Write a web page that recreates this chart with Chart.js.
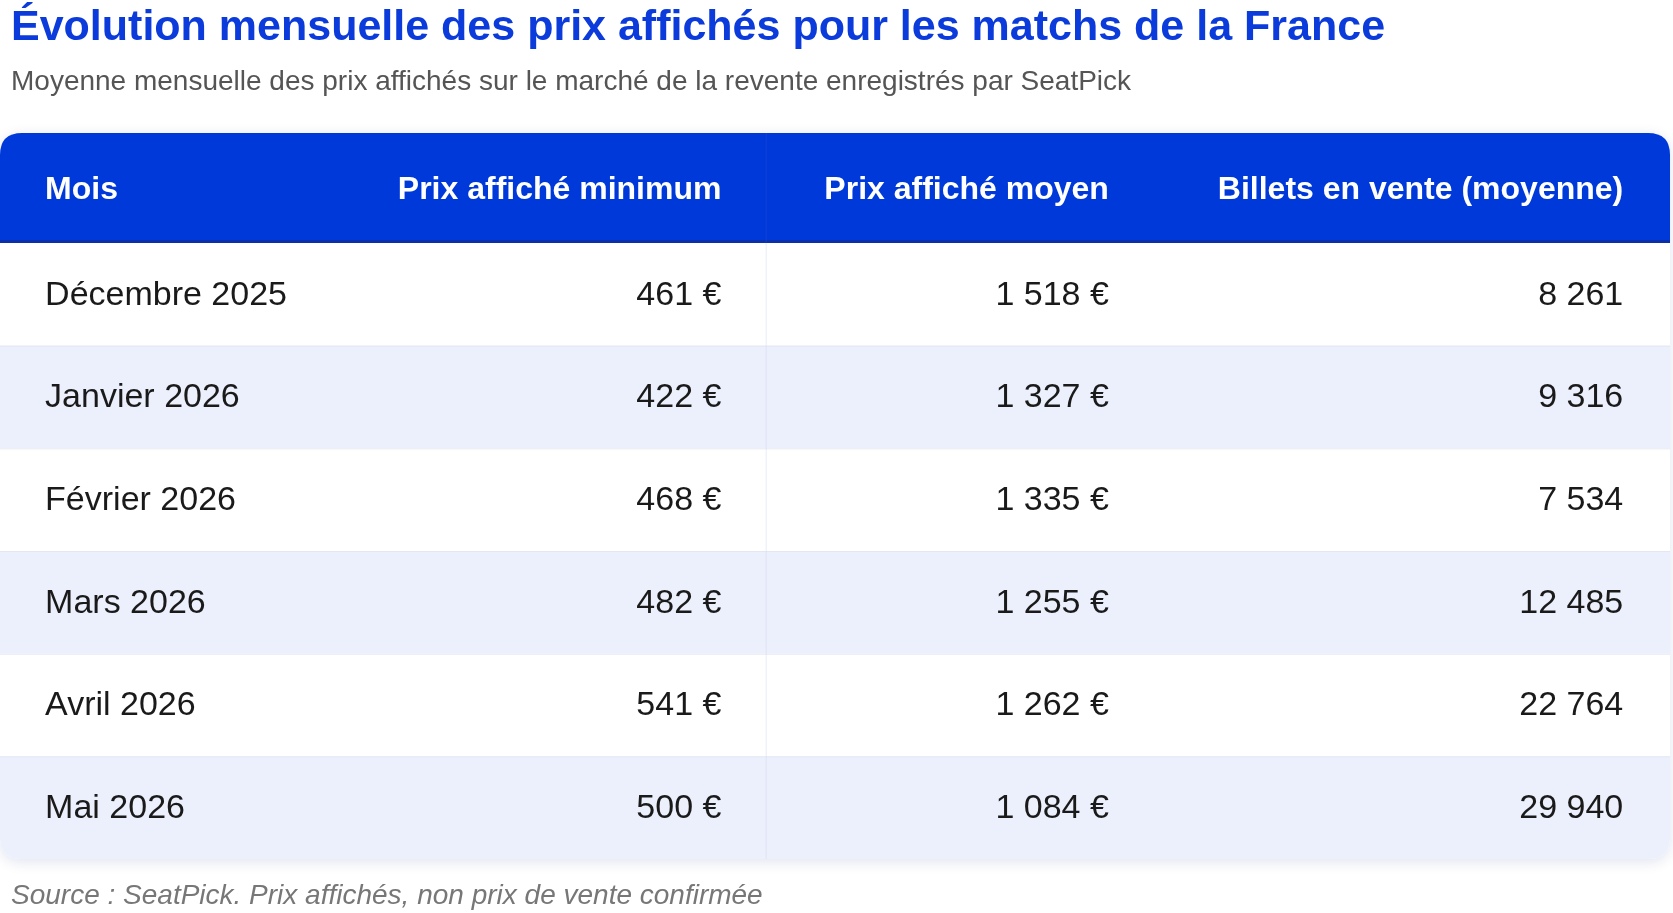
<!DOCTYPE html>
<html>
<head>
<meta charset="utf-8">
<script src="https://cdn.jsdelivr.net/npm/chart.js@4/dist/chart.umd.min.js"></script>
<style>
  html, body { margin: 0; padding: 0; background: #fff; }
  #wrap { width: 1673px; height: 913px; }
</style>
</head>
<body>
<div id="wrap"><canvas id="tbl" width="1673" height="913"></canvas></div>
<script>
// données
const mois = ["Décembre 2025", "Janvier 2026", "Février 2026", "Mars 2026", "Avril 2026", "Mai 2026"];
const prixMin = [461, 422, 468, 482, 541, 500];
const prixMoyen = [1518, 1327, 1335, 1255, 1262, 1084];
const billets = [8261, 9316, 7534, 12485, 22764, 29940];
const entetes = ["Mois", "Prix affiché minimum", "Prix affiché moyen", "Billets en vente (moyenne)"];

const titre = "Évolution mensuelle des prix affichés pour les matchs de la France";
const sousTitre = "Moyenne mensuelle des prix affichés sur le marché de la revente enregistrés par SeatPick";
const source = "Source : SeatPick. Prix affichés, non prix de vente confirmée";

const fmt = n => n.toLocaleString("fr-FR").replace(/[\u202f\u00a0]/g, " ");
const euro = n => fmt(n) + " €";

const BLEU = "#0039d9";
const FONT = "'Liberation Sans', Arial, sans-serif";

function rrect(ctx, x, y, w, h, r) {
  ctx.beginPath();
  ctx.moveTo(x + r, y);
  ctx.lineTo(x + w - r, y);
  ctx.quadraticCurveTo(x + w, y, x + w, y + r);
  ctx.lineTo(x + w, y + h - r);
  ctx.quadraticCurveTo(x + w, y + h, x + w - r, y + h);
  ctx.lineTo(x + r, y + h);
  ctx.quadraticCurveTo(x, y + h, x, y + h - r);
  ctx.lineTo(x, y + r);
  ctx.quadraticCurveTo(x, y, x + r, y);
  ctx.closePath();
}

const tablePlugin = {
  id: "tablePlugin",
  beforeDraw(chart) {
    const ctx = chart.ctx;
    const ca = chart.chartArea;
    const xs = chart.scales.x, ys = chart.scales.y;
    const left = xs.getPixelForValue(0), right = xs.getPixelForValue(1);
    const headTop = 133, headBot = ca.top;
    const rowH = (ca.bottom - ca.top) / mois.length;

    // titre
    ctx.save();
    ctx.textBaseline = "alphabetic";
    ctx.fillStyle = "#0b3bdb";
    ctx.font = "bold 43px " + FONT;
    ctx.fillText(titre, 11, 40);
    ctx.fillStyle = "#555";
    ctx.font = "28px " + FONT;
    ctx.fillText(sousTitre, 11, 90);

    // fond du tableau avec ombre
    ctx.save();
    ctx.shadowColor = "rgba(0,30,120,0.12)";
    ctx.shadowBlur = 14;
    ctx.shadowOffsetY = 3;
    rrect(ctx, left, headTop, right - left, ca.bottom - headTop, 22);
    ctx.fillStyle = "#fff";
    ctx.fill();
    ctx.restore();

    ctx.save();
    rrect(ctx, left, headTop, right - left, ca.bottom - headTop, 22);
    ctx.clip();
    ctx.fillStyle = BLEU;
    ctx.fillRect(left, headTop, right - left, headBot - headTop);
    ctx.fillStyle = "#0a2fa8";
    ctx.fillRect(left, headBot - 3, right - left, 3);
    mois.forEach((m, i) => {
      const yc = ys.getPixelForValue(i);
      const y0 = yc - rowH / 2;
      ctx.fillStyle = i % 2 ? "#ecf0fc" : "#ffffff";
      ctx.fillRect(left, y0, right - left, rowH);
      if (i > 0) {
        ctx.fillStyle = "#e3e7f2";
        ctx.fillRect(left, y0, right - left, 1);
      }
    });
    // séparateur de colonnes
    const sep = xs.getPixelForValue(0.4585);
    ctx.fillStyle = "rgba(40,80,220,0.35)";
    ctx.fillRect(sep, headTop, 1, headBot - headTop);
    ctx.fillStyle = "rgba(210,218,240,0.5)";
    ctx.fillRect(sep, headBot, 1, ca.bottom - headBot);
    ctx.restore();

    // textes
    const colX = [0.027, 0.432, 0.664, 0.972].map(v => xs.getPixelForValue(v));
    const align = ["left", "right", "right", "right"];
    ctx.textBaseline = "middle";
    ctx.font = "bold 32px " + FONT;
    ctx.fillStyle = "#fff";
    entetes.forEach((h, j) => {
      ctx.textAlign = align[j];
      ctx.fillText(h, colX[j], (headTop + headBot) / 2 + 2);
    });
    ctx.font = "34px " + FONT;
    ctx.fillStyle = "#1a1a1a";
    mois.forEach((m, i) => {
      const yc = ys.getPixelForValue(i) + 1;
      const vals = [m, euro(prixMin[i]), euro(prixMoyen[i]), fmt(billets[i])];
      vals.forEach((v, j) => {
        ctx.textAlign = align[j];
        ctx.fillText(v, colX[j], yc);
      });
    });

    ctx.textAlign = "left";
    ctx.font = "italic 28px " + FONT;
    ctx.fillStyle = "#777";
    ctx.fillText(source, 11, 896);
    ctx.restore();
  }
};

new Chart(document.getElementById("tbl"), {
  type: "bar",
  data: { labels: mois, datasets: [{ data: [], backgroundColor: "transparent" }] },
  options: {
    responsive: false,
    animation: false,
    indexAxis: "y",
    layout: { padding: { top: 243, bottom: 54, left: 0, right: 3 } },
    plugins: { legend: { display: false }, tooltip: { enabled: false } },
    scales: {
      x: { type: "linear", min: 0, max: 1, display: false },
      y: { type: "category", offset: true, display: false }
    }
  },
  plugins: [tablePlugin]
});
</script>
</body>
</html>
